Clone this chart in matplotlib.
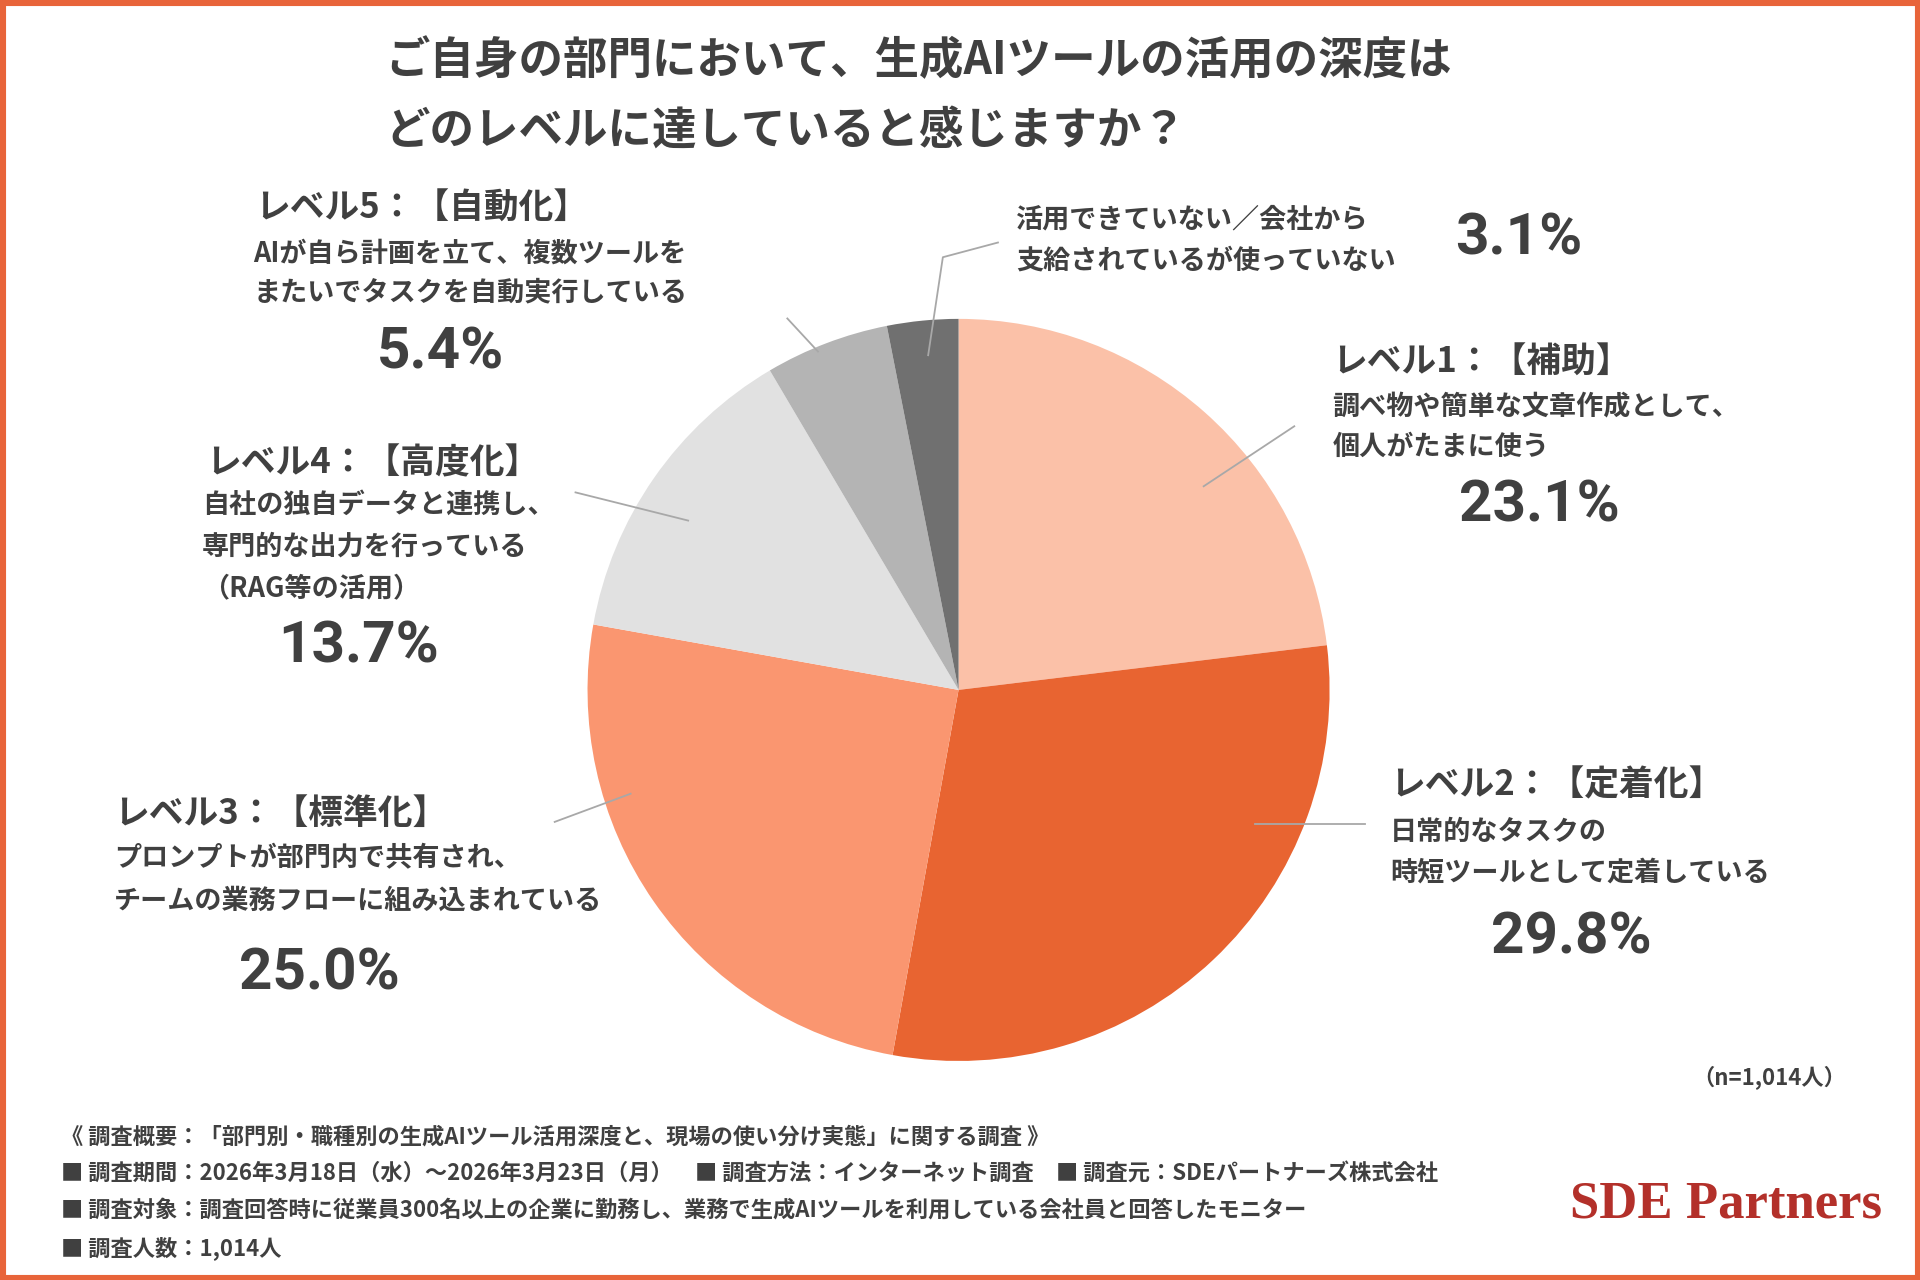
import matplotlib
matplotlib.use("Agg")
import matplotlib.pyplot as plt
from matplotlib.lines import Line2D
from matplotlib.patches import Rectangle

plt.rcParams['font.family'] = ['Noto Sans CJK JP', 'DejaVu Sans']

categories = ["レベル1：【補助】", "レベル2：【定着化】", "レベル3：【標準化】",
              "レベル4：【高度化】", "レベル5：【自動化】", "活用できていない"]
values = [23.1, 29.8, 25.0, 13.7, 5.4, 3.1]
colors = ["#FBC1A8", "#E86431", "#FA9670", "#E1E1E1", "#B4B4B4", "#707070"]
descriptions = [
    ["調べ物や簡単な文章作成として、", "個人がたまに使う"],
    ["日常的なタスクの", "時短ツールとして定着している"],
    ["プロンプトが部門内で共有され、", "チームの業務フローに組み込まれている"],
    ["自社の独自データと連携し、", "専門的な出力を行っている", "（RAG等の活用）"],
    ["AIが自ら計画を立て、複数ツールを", "またいでタスクを自動実行している"],
    ["活用できていない／会社から", "支給されているが使っていない"],
]

W, H = 1568.0, 1045.0
def P(x, y):
    return (x / W, 1 - y / H)

fig = plt.figure(figsize=(19.2, 12.8), dpi=100)
fig.patches.append(Rectangle((0, 0), 1, 1, transform=fig.transFigure, fill=False,
                             edgecolor="#E8643A", linewidth=8))

ax = fig.add_axes([0.306, 0.171, 0.3865, 0.58])
ax.pie(values, colors=colors, startangle=90, counterclock=False,
       wedgeprops=dict(linewidth=0))
ax.set_xlim(-1, 1)
ax.set_ylim(-1, 1)
ax.set_aspect('equal')
ax.axis('off')

tc = "#404040"
fig.text(*P(315, 50), "ご自身の部門において、生成AIツールの活用の深度は", fontsize=32,
         fontweight='bold', color=tc, va='center')
fig.text(*P(315, 107), "どのレベルに達していると感じますか？", fontsize=32,
         fontweight='bold', color=tc, va='center')

def block(idx, hx, hy, dx, dys, px, py, heading=True):
    if heading:
        fig.text(*P(hx, hy), categories[idx], fontsize=25, fontweight='bold', color=tc, va='center')
    for line, dy in zip(descriptions[idx], dys):
        fig.text(*P(dx, dy), line, fontsize=19.5, fontweight='bold', color=tc, va='center')
    fig.text(*P(px, py), f"{values[idx]:.1f}%", fontsize=42, fontweight='bold', color=tc,
             va='center', ha='center', family=['Roboto', 'DejaVu Sans'])

block(0, 1088, 296, 1088, [332, 365], 1257, 413)
block(1, 1135, 641, 1135, [679, 712], 1283, 766)
block(2, 93, 664, 93, [701, 735], 261, 795)
block(3, 168, 378, 165, [412, 446, 480], 293, 528)
block(4, 208, 170, 207, [207, 239], 360, 288)
block(5, 0, 0, 830, [179, 213], 1240, 195, heading=False)

def leader(pts):
    xs = [p[0] / W for p in pts]
    ys = [1 - p[1] / H for p in pts]
    fig.lines.append(Line2D(xs, ys, transform=fig.transFigure, color="#A8A8A8", linewidth=1.3))

leader([(758, 290), (770, 210), (815, 198)])
leader([(668, 287), (643, 260)])
leader([(983, 397), (1057, 348)])
leader([(562, 425), (470, 402)])
leader([(515, 648), (453, 671)])
leader([(1025, 673), (1115, 673)])

fig.text(*P(1508, 880), "（n=1,014人）", fontsize=16, fontweight='bold', color=tc, ha='right', va='center')
foot = [
    "《 調査概要：「部門別・職種別の生成AIツール活用深度と、現場の使い分け実態」に関する調査 》",
    "■ 調査期間：2026年3月18日（水）～2026年3月23日（月）　■ 調査方法：インターネット調査　■ 調査元：SDEパートナーズ株式会社",
    "■ 調査対象：調査回答時に従業員300名以上の企業に勤務し、業務で生成AIツールを利用している会社員と回答したモニター",
    "■ 調査人数：1,014人",
]
for line, y in zip(foot, [928, 958, 988, 1019]):
    fig.text(*P(50, y), line, fontsize=16, fontweight='bold', color=tc, va='center')
fig.text(*P(1537, 983), "SDE Partners", fontsize=38, fontweight='bold', color="#B3302A",
         ha='right', va='center', family=['Liberation Serif'])

fig.savefig("out.png", dpi=100, facecolor='white')
